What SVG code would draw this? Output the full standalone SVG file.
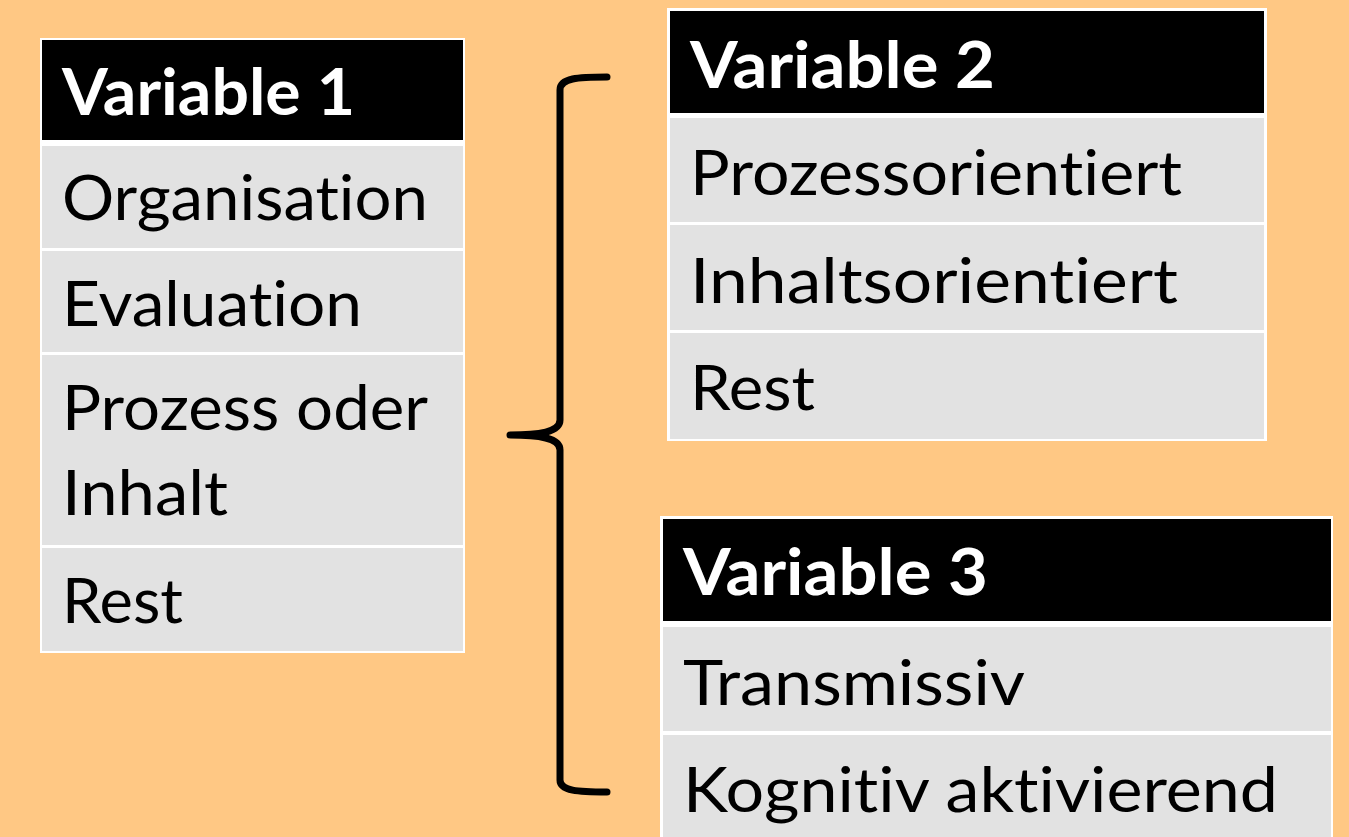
<svg xmlns="http://www.w3.org/2000/svg" width="1349" height="837" viewBox="0 0 1349 837">
<style>
.frame{fill:#FFFFFF}
.head{fill:#000000}
.cell{fill:#E2E2E2}
.ht,.ct{font-family:Lato,"Open Sans","Liberation Sans",sans-serif;font-variant-ligatures:none;font-feature-settings:"liga" 0,"clig" 0}
.ht{font-weight:bold;font-size:65px;fill:#FFFFFF}
.ct{font-size:62px;fill:#000000}
.brace{fill:none;stroke:#000000;stroke-width:7;stroke-linecap:round;stroke-linejoin:round}
</style>
<rect x="0" y="0" width="1349" height="837" fill="#FFC884"/>
<g id="variable1">
<rect class="frame" x="40" y="38" width="425" height="615"/>
<rect class="head" x="42" y="40" width="421" height="100"/>
<rect class="cell" x="42" y="146" width="421" height="102"/>
<rect class="cell" x="42" y="251" width="421" height="101"/>
<rect class="cell" x="42" y="355" width="421" height="190"/>
<rect class="cell" x="42" y="548" width="421" height="103"/>
<text class="ht" x="62" y="115" textLength="293" lengthAdjust="spacingAndGlyphs">Variable 1</text>
<text class="ct" x="62" y="220" textLength="366" lengthAdjust="spacingAndGlyphs">Organisation</text>
<text class="ct" x="62" y="326" textLength="300" lengthAdjust="spacingAndGlyphs">Evaluation</text>
<text class="ct" x="62" y="430" textLength="366" lengthAdjust="spacingAndGlyphs">Prozess oder</text>
<text class="ct" x="62" y="515" textLength="166" lengthAdjust="spacingAndGlyphs">Inhalt</text>
<text class="ct" x="62" y="623" textLength="121" lengthAdjust="spacingAndGlyphs">Rest</text>
</g>
<g id="variable2">
<rect class="frame" x="667" y="8" width="600" height="433"/>
<rect class="head" x="670" y="11" width="594" height="102"/>
<rect class="cell" x="670" y="118" width="594" height="104"/>
<rect class="cell" x="670" y="225" width="594" height="105"/>
<rect class="cell" x="670" y="333" width="594" height="106"/>
<text class="ht" x="690" y="88" textLength="305" lengthAdjust="spacingAndGlyphs">Variable 2</text>
<text class="ct" x="690" y="195" textLength="492" lengthAdjust="spacingAndGlyphs">Prozessorientiert</text>
<text class="ct" x="690" y="303" textLength="488" lengthAdjust="spacingAndGlyphs">Inhaltsorientiert</text>
<text class="ct" x="690" y="410" textLength="125" lengthAdjust="spacingAndGlyphs">Rest</text>
</g>
<g id="variable3">
<rect class="frame" x="660" y="516" width="673" height="330"/>
<rect class="head" x="663" y="519" width="668" height="102"/>
<rect class="cell" x="663" y="627" width="668" height="104"/>
<rect class="cell" x="663" y="735" width="668" height="110"/>
<text class="ht" x="683" y="595" textLength="305" lengthAdjust="spacingAndGlyphs">Variable 3</text>
<text class="ct" x="683" y="705" textLength="342" lengthAdjust="spacingAndGlyphs">Transmissiv</text>
<text class="ct" x="683" y="812" textLength="595" lengthAdjust="spacingAndGlyphs">Kognitiv aktivierend</text>
</g>
<g id="connectors">
<path class="brace" d="M607,77 C578,77 560,78 560,90 L560,420 C560,432 540,435 510,435 C540,435 560,438 560,450 L560,780 C560,791 578,792 607,792"/>
</g>
</svg>
